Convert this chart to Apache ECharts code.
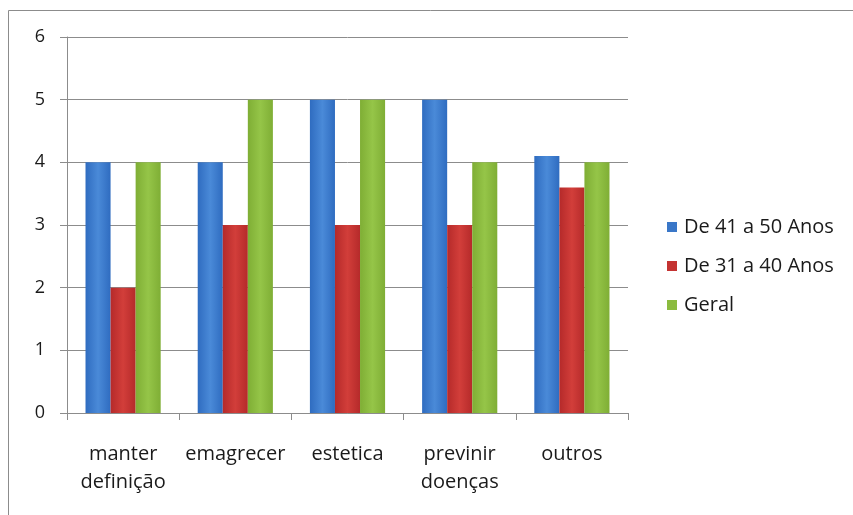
<!DOCTYPE html>
<html>
<head>
<meta charset="utf-8">
<script src="https://cdn.jsdelivr.net/npm/echarts@6/dist/echarts.min.js"></script>
<style>
  html, body { margin: 0; padding: 0; background: #fff; }
  #chart { width: 853px; height: 515px; }
</style>
</head>
<body>
<div id="chart"></div>
<script>
// Motivos por faixa etária
const categories = ['manter\ndefinição', 'emagrecer', 'estetica', 'previnir\ndoenças', 'outros'];
const seriesNames = ['De 41 a 50 Anos', 'De 31 a 40 Anos', 'Geral'];
const faixa41a50 = [4, 4, 5, 5, 4.1];
const faixa31a40 = [2, 3, 3, 3, 3.6];
const geral = [4, 5, 5, 4, 4];
const yTicks = [0, 1, 2, 3, 4, 5, 6];

const font = '"Open Sans", sans-serif';
const textSize = 20;
const tickSize = 18;

function barFill(edge, mid) {
  return new echarts.graphic.LinearGradient(0, 0, 1, 0, [
    { offset: 0, color: edge },
    { offset: 0.5, color: mid },
    { offset: 1, color: edge }
  ]);
}

const palette = [
  barFill('#2f6cc0', '#4a8ad8'),
  barFill('#b52a2a', '#d23e3a'),
  barFill('#7fae35', '#95c548')
];
const legendColors = ['#3a77c8', '#c43332', '#8bbb3f'];

const chart = echarts.init(document.getElementById('chart'), null, { renderer: 'canvas' });

chart.setOption({
  animation: false,
  backgroundColor: '#ffffff',
  graphic: [{
    type: 'polyline',
    shape: { points: [[8.5, 515], [8.5, 10.5], [853, 10.5]] },
    style: { stroke: '#8c8c8c', lineWidth: 1, fill: null }
  }].concat(seriesNames.map((n, i) => ({
    type: 'group',
    left: 667,
    top: 217 + i * 39,
    children: [
      { type: 'rect', shape: { x: 0, y: 0, width: 10, height: 10 }, style: { fill: legendColors[i] } },
      { type: 'text', x: 17, y: 5, style: { text: n, font: textSize + 'px ' + font, fill: '#1a1a1a', textVerticalAlign: 'middle' } }
    ]
  }))),
  grid: { left: 67, right: 225, top: 37, bottom: 102, containLabel: false },
  xAxis: {
    type: 'category',
    data: categories,
    axisLine: { lineStyle: { color: '#8c8c8c', width: 1 } },
    axisTick: { show: true, length: 7, lineStyle: { color: '#8c8c8c' } },
    axisLabel: {
      color: '#1a1a1a', fontFamily: font, fontSize: textSize, lineHeight: 28, margin: 27, interval: 0
    }
  },
  yAxis: {
    type: 'value',
    min: 0, max: 6, interval: 1,
    axisLine: { show: true, lineStyle: { color: '#8c8c8c', width: 1 } },
    axisTick: { show: true, length: 7, lineStyle: { color: '#8c8c8c' } },
    splitLine: { lineStyle: { color: '#8c8c8c', width: 1 } },
    axisLabel: {
      color: '#1a1a1a', fontFamily: font, fontSize: tickSize, margin: 22,
      formatter: v => (yTicks.includes(v) ? String(v) : '')
    }
  },
  series: [faixa41a50, faixa31a40, geral].map((d, i) => ({
    name: seriesNames[i],
    type: 'bar',
    data: d,
    barGap: '0%',
    barCategoryGap: '33%',
    itemStyle: { color: palette[i] }
  }))
});
</script>
</body>
</html>
